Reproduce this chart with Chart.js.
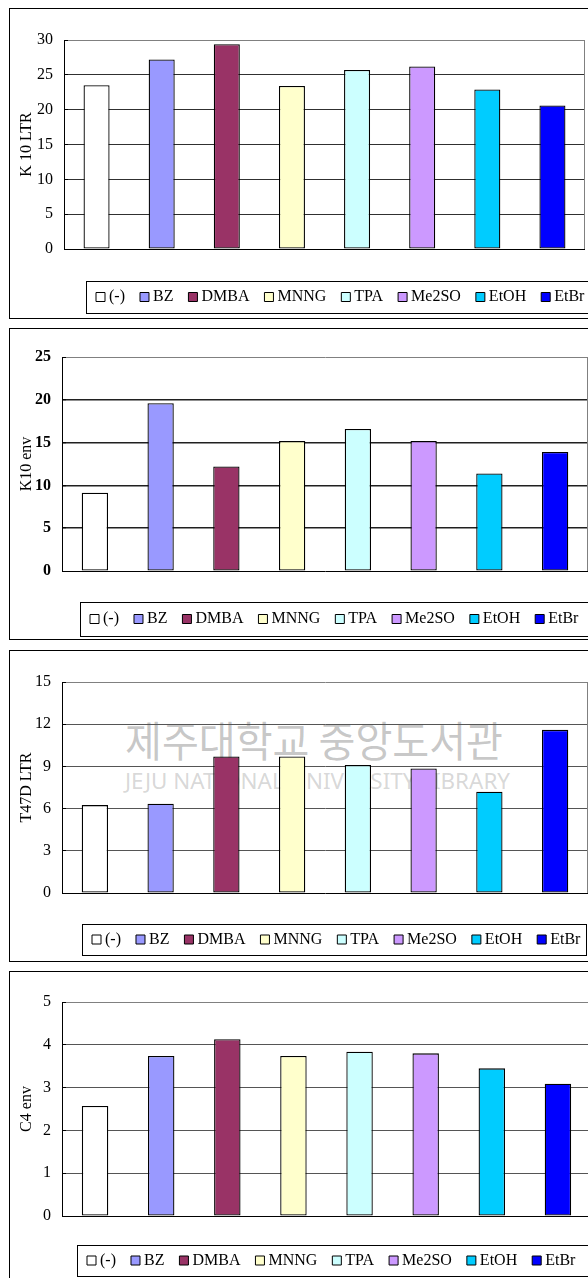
<!DOCTYPE html>
<html>
<head>
<meta charset="utf-8">
<script src="https://cdn.jsdelivr.net/npm/chart.js@4.4.1/dist/chart.umd.min.js"></script>
<style>
  html, body { margin: 0; padding: 0; background: #fff; }
  body { width: 588px; height: 1278px; overflow: hidden; position: relative; }
  .panel { position: absolute; left: 9px; width: 640px; border: 1px solid #000; box-sizing: border-box; z-index: 2; }
  canvas { position: absolute; left: 0; z-index: 1; }
  .wm { position: absolute; white-space: nowrap; pointer-events: none; line-height: 1; z-index: 0; transform-origin: left top; }
</style>
</head>
<body>
<div class="wm" id="wmKo" data-w="378" style="left:125px;top:718px;font-size:42px;font-family:'Noto Sans CJK KR';color:rgba(120,120,120,0.42);">제주대학교 중앙도서관</div>
<div class="wm" id="wmEn" data-w="385" style="left:125px;top:769px;font-size:22px;font-family:'Noto Sans';color:rgba(120,120,120,0.3);">JEJU NATIONAL UNIVERSITY LIBRARY</div>
<script>
// categories (one bar per treatment, each with its own colour)
const categories = ['(-)', 'BZ', 'DMBA', 'MNNG', 'TPA', 'Me2SO', 'EtOH', 'EtBr'];
const barColors = ['#FFFFFF', '#9999FF', '#993366', '#FFFFCC', '#CCFFFF', '#CC99FF', '#00CCFF', '#0000FF'];

// values
const k10Ltr = [23.5, 27.2, 29.4, 23.4, 25.7, 26.2, 22.9, 20.6];
const k10Env = [9.15, 19.6, 12.2, 15.2, 16.6, 15.2, 11.4, 13.9];
const t47dLtr = [6.25, 6.35, 9.7, 9.7, 9.1, 8.85, 7.2, 11.6];
const c4Env = [2.57, 3.74, 4.13, 3.74, 3.84, 3.8, 3.45, 3.09];

// y axes
const axisTitles = ['K 10 LTR', 'K10 env', 'T47D LTR', 'C4 env'];
const yMax = [30, 25, 15, 5];
const yStep = [5, 5, 3, 1];

Chart.defaults.font.family = "'Liberation Serif', 'Times New Roman', serif";
Chart.defaults.color = '#000';

// squeeze the library watermark to its width in the scan
document.querySelectorAll('.wm').forEach((el) => {
  const w = el.getBoundingClientRect().width;
  el.style.transform = 'scaleX(' + (Number(el.dataset.w) / w) + ')';
});

// page layout of each panel
const panels = [
  { values: k10Ltr, top: 8, bottom: 319, plot: { l: 64, t: 40, r: 585, b: 249 }, legend: { l: 86, t: 281, r: 588, b: 313 }, grid: '#303030', gridW: 1, bold: false },
  { values: k10Env, top: 328, bottom: 640, plot: { l: 62, t: 357, r: 588, b: 571 }, legend: { l: 80, t: 602, r: 640, b: 636 }, grid: '#202020', gridW: 1.5, bold: true },
  { values: t47dLtr, top: 650, bottom: 962, plot: { l: 62, t: 682, r: 588, b: 893 }, legend: { l: 82, t: 924, r: 586, b: 955 }, grid: '#555555', gridW: 1, bold: false },
  { values: c4Env, top: 971, bottom: 1290, plot: { l: 62, t: 1002, r: 591, b: 1216 }, legend: { l: 77, t: 1245, r: 640, b: 1276 }, grid: '#555555', gridW: 1, bold: false }
];

const canvasW = 600;
const legendH = 30;
const legendPad = 19;

function framePlugin(p) {
  return {
    id: 'frame',
    afterLayout(chart) {
      // put the legend row where the boxed legend sits in the picture
      const lg = chart.legend;
      const cy = (p.legend.t + p.legend.b) / 2 - p.top;
      lg.left = p.legend.l + 14 - legendPad;
      lg.right = canvasW + 100;
      lg.top = cy - 8 - legendPad;
      lg.bottom = p.legend.b - p.top;
    },
    beforeDatasetsDraw(chart) {
      const { ctx, chartArea: a } = chart;
      ctx.save();
      ctx.strokeStyle = '#808080';
      ctx.lineWidth = 1;
      ctx.beginPath();
      ctx.moveTo(Math.round(a.right) - 0.5, Math.round(a.top) + 0.5);
      ctx.lineTo(Math.round(a.right) - 0.5, Math.round(a.bottom));
      ctx.stroke();
      ctx.restore();
    },
    afterDraw(chart) {
      const ctx = chart.ctx;
      ctx.save();
      ctx.strokeStyle = '#000';
      ctx.lineWidth = 1;
      ctx.strokeRect(p.legend.l + 0.5, p.legend.t - p.top + 0.5, p.legend.r - p.legend.l, p.legend.b - p.legend.t);
      ctx.restore();
    }
  };
}

panels.forEach((p, i) => {
  const box = document.createElement('div');
  box.className = 'panel';
  box.style.top = p.top + 'px';
  box.style.height = (p.bottom - p.top) + 'px';
  document.body.appendChild(box);

  const h = p.bottom - p.top;
  const cv = document.createElement('canvas');
  cv.width = canvasW;
  cv.height = h;
  cv.style.top = p.top + 'px';
  cv.style.width = canvasW + 'px';
  cv.style.height = h + 'px';
  document.body.appendChild(cv);

  new Chart(cv, {
    type: 'bar',
    data: {
      labels: categories,
      datasets: [{
        data: p.values,
        backgroundColor: barColors,
        borderColor: '#000',
        borderWidth: 1.3,
        borderSkipped: false,
        barPercentage: 0.4,
        categoryPercentage: 1
      }]
    },
    options: {
      responsive: false,
      animation: false,
      events: [],
      layout: {
        padding: {
          left: 0,
          top: p.plot.t - p.top,
          right: canvasW - p.plot.r,
          bottom: h - (p.plot.b - p.top) - legendH
        }
      },
      scales: {
        x: { display: false },
        y: {
          min: 0,
          max: yMax[i],
          afterFit: (s) => { s.width = p.plot.l; },
          ticks: {
            stepSize: yStep[i],
            padding: 15,
            color: '#000',
            font: { size: 16, weight: p.bold ? 'bold' : 'normal' }
          },
          grid: {
            color: (c) => c.tick && c.tick.value === 0 ? '#000' : (c.tick && c.tick.value === yMax[i] ? '#808080' : p.grid),
            lineWidth: (c) => c.tick && (c.tick.value === 0 || c.tick.value === yMax[i]) ? 1 : p.gridW,
            drawTicks: true,
            tickLength: -4,
            tickColor: '#000',
            tickWidth: 1
          },
          border: { display: true, color: '#000', width: 1 },
          title: {
            display: true,
            text: axisTitles[i],
            color: '#000',
            font: { size: 16 },
            padding: { top: 17, bottom: 0 }
          }
        }
      },
      plugins: {
        tooltip: { enabled: false },
        legend: {
          display: true,
          position: 'bottom',
          align: 'start',
          maxHeight: legendH,
          labels: {
            usePointStyle: true,
            boxWidth: 1,
            boxHeight: 9,
            padding: legendPad,
            color: '#000',
            font: { size: 16 },
            generateLabels: (chart) => chart.data.labels.map((lab, k) => ({
              text: lab,
              fillStyle: barColors[k],
              strokeStyle: '#000',
              lineWidth: 1,
              pointStyle: 'rect',
              hidden: false,
              index: k
            }))
          }
        }
      }
    },
    plugins: [framePlugin(p)]
  });
});
</script>
</body>
</html>
